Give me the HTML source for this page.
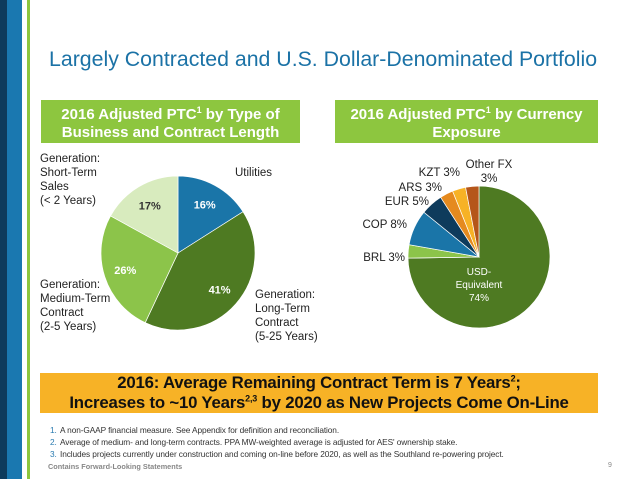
<!DOCTYPE html>
<html><head><meta charset="utf-8"><style>
body{margin:0;width:638px;height:479px;background:#fff;position:relative;overflow:hidden;font-family:"Liberation Sans",sans-serif}
.a{position:absolute}
.hdr{background:#8dc63f;color:#fff;font-weight:bold;font-size:15px;text-align:center;line-height:18px;display:flex;align-items:center;justify-content:center}
.lbl{position:absolute;font-size:11.5px;color:#222;line-height:14px}
.fn{position:absolute;left:50px;font-size:8.3px;color:#333;letter-spacing:-0.1px}
.fn span{color:#2a7bb0;display:inline-block;width:10px}
</style></head><body>
<div class="a" style="left:0;top:0;width:7px;height:479px;background:#0e3b5c"></div>
<div class="a" style="left:7px;top:0;width:15px;height:479px;background:#1a78b0"></div>
<div class="a" style="left:27px;top:0;width:3px;height:479px;background:#8dc63f"></div>
<div class="a" style="left:49px;top:47px;font-size:21.3px;color:#1b72a6">Largely Contracted and U.S. Dollar-Denominated Portfolio</div>
<div class="a hdr" style="left:41px;top:100px;width:259px;height:43px"><div>2016 Adjusted PTC<sup style="font-size:9px">1</sup>&nbsp;by Type of<br>Business and Contract Length</div></div>
<div class="a hdr" style="left:335px;top:100px;width:263px;height:43px"><div>2016 Adjusted PTC<sup style="font-size:9px">1</sup> by Currency<br>Exposure</div></div>
<svg class="a" style="left:0;top:0" width="638" height="479">
<g id="p1"></g>
<g id="p2"></g>
</svg>
<div class="lbl" style="left:40px;top:152px">Generation:<br>Short-Term<br>Sales<br>(&lt; 2 Years)</div>
<div class="lbl" style="left:235px;top:166px">Utilities</div>
<div class="lbl" style="left:40px;top:278px">Generation:<br>Medium-Term<br>Contract<br>(2-5 Years)</div>
<div class="lbl" style="left:255px;top:288px">Generation:<br>Long-Term<br>Contract<br>(5-25 Years)</div>
<div class="a" style="left:40px;top:373px;width:558px;height:40px;background:#f7b226;text-align:center;font-weight:bold;font-size:16.8px;line-height:19.5px;color:#111;letter-spacing:-0.2px">2016: Average Remaining Contract Term is 7 Years<sup style="font-size:9px;line-height:0">2</sup>;<br>Increases to ~10 Years<sup style="font-size:9px;line-height:0">2,3</sup> by 2020 as New Projects Come On-Line</div>
<div class="fn" style="top:425px"><span>1.</span>A non-GAAP financial measure.  See Appendix for definition and reconciliation.</div>
<div class="fn" style="top:437px"><span>2.</span>Average of medium- and long-term contracts.  PPA MW-weighted average is adjusted for AES' ownership stake.</div>
<div class="fn" style="top:449px"><span>3.</span>Includes projects currently under construction and coming on-line before 2020, as well as the Southland re-powering project.</div>
<div class="a" style="left:48px;top:462px;font-size:7.3px;font-weight:bold;color:#888">Contains Forward-Looking Statements</div>
<div class="a" style="left:608px;top:462px;font-size:7px;color:#888">9</div>
<script>
const bizCats=["Utilities","Long-Term","Medium-Term","Short-Term"];
const bizVals=[16,41,26,17];
const bizColors=["#1a75a8","#4e7a22","#8cc44a","#d8ebbe"];
const curCats=["USD-Equivalent","BRL","COP","EUR","ARS","KZT","Other FX"];
const curVals=[74,3,8,5,3,3,3];
const curColors=["#4e7a22","#8cc44a","#1a75a8","#0e3b5c","#e58a1f","#f7b226","#b5561a"];
const NS="http://www.w3.org/2000/svg";
function pie(gid,vals,colors,cx,cy,r,labels){
  const g=document.getElementById(gid);const tot=vals.reduce((a,b)=>a+b,0);let a0=0;
  vals.forEach((v,i)=>{const a1=a0+v/tot*2*Math.PI;
    const x0=cx+r*Math.sin(a0),y0=cy-r*Math.cos(a0),x1=cx+r*Math.sin(a1),y1=cy-r*Math.cos(a1);
    const p=document.createElementNS(NS,"path");
    p.setAttribute("d",`M${cx},${cy}L${x0},${y0}A${r},${r} 0 ${a1-a0>Math.PI?1:0} 1 ${x1},${y1}Z`);
    p.setAttribute("fill",colors[i]);p.setAttribute("stroke","#fff");p.setAttribute("stroke-width","0.7");
    
    
    g.appendChild(p);
    if(labels){const am=(a0+a1)/2,lr=r*0.72;const t=document.createElementNS(NS,"text");
      t.setAttribute("x",cx+lr*Math.sin(am));t.setAttribute("y",cy-lr*Math.cos(am)+4);
      t.setAttribute("text-anchor","middle");t.setAttribute("font-size","11");t.setAttribute("font-weight","bold");
      t.setAttribute("fill",i==3?"#333":"#fff");t.textContent=v+"%";
      
      
      g.appendChild(t);}
    a0=a1;});
  return g;
}
pie("p1",bizVals,bizColors,178,253,77,true);
const g2=pie("p2",curVals,curColors,479,257,71,false);
function txt(x,y,s,anchor,fill,size){const t=document.createElementNS(NS,"text");t.setAttribute("x",x);t.setAttribute("y",y);t.setAttribute("text-anchor",anchor);t.setAttribute("fill",fill);t.setAttribute("font-size",size);t.textContent=s;


g2.appendChild(t);}
txt(479,275,"USD-","middle","#fff",10);txt(479,288,"Equivalent","middle","#fff",10);txt(479,301,curVals[0]+"%","middle","#fff",10);
txt(405,261,"BRL "+curVals[1]+"%","end","#222",11.5);
txt(407,228,"COP "+curVals[2]+"%","end","#222",11.5);
txt(429,205,"EUR "+curVals[3]+"%","end","#222",11.5);
txt(442,191,"ARS "+curVals[4]+"%","end","#222",11.5);
txt(460,176,"KZT "+curVals[5]+"%","end","#222",11.5);
txt(489,168,"Other FX","middle","#222",11.5);txt(489,182,curVals[6]+"%","middle","#222",11.5);
</script>
</body></html>
